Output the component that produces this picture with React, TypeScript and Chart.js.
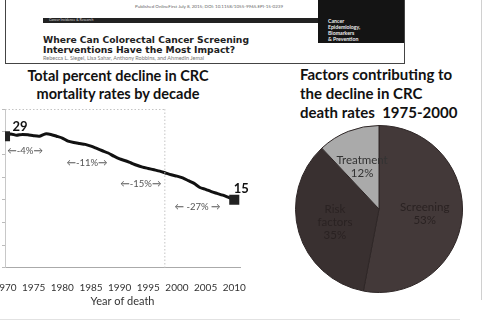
import React, { useEffect, useRef } from "react";
import { Chart, registerables } from "chart.js";

Chart.register(...registerables);

// Colorectal cancer mortality rate (per 100,000) by year of death
const years = [
  1970, 1971, 1972, 1973, 1974, 1975, 1976, 1977, 1978, 1979,
  1980, 1981, 1982, 1983, 1984, 1985, 1986, 1987, 1988, 1989,
  1990, 1991, 1992, 1993, 1994, 1995, 1996, 1997, 1998, 1999,
  2000, 2001, 2002, 2003, 2004, 2005, 2006, 2007, 2008, 2009,
  2010,
];
const rates = [
  29.0, 29.5, 29.2, 29.4, 29.3, 29.1, 29.0, 29.5, 29.4, 29.0,
  28.6, 27.9, 27.6, 27.4, 27.2, 26.8, 26.3, 25.8, 25.3, 24.6,
  24.0, 23.6, 23.1, 22.6, 22.2, 21.9, 21.6, 21.3, 20.9, 20.5,
  20.2, 19.8, 19.2, 18.6, 17.7, 17.3, 16.8, 16.4, 16.0, 15.5,
  15.0,
];
const yearTicks = [1970, 1975, 1980, 1985, 1990, 1995, 2000, 2005, 2010];

// Decade-by-decade percent decline notes
const decadeNotes = ["←-4%→", "←-11%→", "←-15%→", "← -27% →"];
const decadeNoteYears = [1973.5, 1984.3, 1993.7, 2003.6];
const decadeNoteRates = [25.7, 23.1, 18.5, 13.4];
const panelEdgeYear = 1997.8;

// Contribution of each factor to the 1975-2000 decline
const factorNames = ["Screening", "Risk factors", "Treatment"];
const factorShares = [53, 35, 12];
const factorColors = ["#433939", "#393030", "#aaaaaa"];
const factorTextColors = ["#2a2222", "#2a2222", "#333333"];

const FONT = "Lato, 'Open Sans', sans-serif";

const lineLabels = {
  id: "lineLabels",
  afterDatasetsDraw(chart: any) {
    const { ctx, scales, chartArea } = chart;
    const xs = scales.x;
    const ys = scales.y;
    ctx.save();

    // dotted panel edges
    const edgeX = xs.getPixelForValue(panelEdgeYear);
    ctx.strokeStyle = "#c4c4c4";
    ctx.lineWidth = 1;
    ctx.setLineDash([1.5, 2]);
    ctx.beginPath();
    ctx.moveTo(chartArea.left, chartArea.top + 0.5);
    ctx.lineTo(edgeX, chartArea.top + 0.5);
    ctx.moveTo(edgeX + 0.5, chartArea.top);
    ctx.lineTo(edgeX + 0.5, chartArea.bottom);
    ctx.stroke();
    ctx.setLineDash([]);

    // decade notes
    ctx.fillStyle = "#555";
    ctx.font = `9.5px ${FONT}`;
    ctx.textAlign = "center";
    ctx.textBaseline = "middle";
    decadeNotes.forEach((t, i) => {
      ctx.fillText(t, xs.getPixelForValue(decadeNoteYears[i]), ys.getPixelForValue(decadeNoteRates[i]));
    });

    // first and last values
    const pts = chart.getDatasetMeta(0).data;
    const first = pts[0];
    const last = pts[pts.length - 1];
    ctx.fillStyle = "#111";
    ctx.font = `bold 13px ${FONT}`;
    ctx.fillText(String(rates[0]), first.x + 15, first.y - 9);
    ctx.fillText(String(rates[rates.length - 1]), last.x + 7, last.y - 11);
    ctx.restore();
  },
};

const pieLabels = {
  id: "pieLabels",
  afterDatasetsDraw(chart: any) {
    const { ctx } = chart;
    const arcs = chart.getDatasetMeta(0).data;
    ctx.save();
    ctx.font = `11.5px ${FONT}`;
    ctx.textAlign = "center";
    ctx.textBaseline = "middle";
    arcs.forEach((arc: any, i: number) => {
      const mid = (arc.startAngle + arc.endAngle) / 2;
      const r = arc.outerRadius * 0.55;
      const cx = arc.x + Math.cos(mid) * r;
      const cy = arc.y + Math.sin(mid) * r;
      const lines = factorNames[i].split(" ").concat([`${factorShares[i]}%`]);
      ctx.fillStyle = factorTextColors[i];
      const lh = 13;
      lines.forEach((l: string, j: number) => {
        ctx.fillText(l, cx, cy + (j - (lines.length - 1) / 2) * lh);
      });
    });
    ctx.restore();
  },
};

function TrendChart() {
  const ref = useRef<HTMLCanvasElement>(null);
  useEffect(() => {
    const last = rates.length - 1;
    const chart = new Chart(ref.current!, {
      type: "line",
      data: {
        datasets: [
          {
            data: years.map((y, i) => ({ x: y, y: rates[i] })),
            borderColor: "#111",
            borderWidth: 3,
            tension: 0.2,
            pointStyle: "rect",
            pointRadius: (c: any) => (c.dataIndex === 0 || c.dataIndex === last ? 5 : 0),
            pointBackgroundColor: "#222",
            pointBorderColor: "#222",
          },
        ],
      },
      options: {
        animation: false,
        responsive: false,
        layout: { padding: { left: 25, right: 20, top: 9, bottom: 12 } },
        plugins: { legend: { display: false }, tooltip: { enabled: false } },
        scales: {
          x: {
            type: "linear",
            min: 1970,
            max: 2011,
            afterBuildTicks: (axis: any) => {
              axis.ticks = yearTicks.map((v) => ({ value: v }));
            },
            grid: { display: false },
            border: { color: "#aaa", width: 1, dash: [3, 2] },
            ticks: {
              color: "#333",
              font: { family: FONT, size: 10 },
              padding: 6,
              maxRotation: 0,
              autoSkip: false,
              callback: (v: any) => String(v),
            },
            title: {
              display: true,
              text: "Year of death",
              color: "#333",
              font: { family: FONT, size: 11 },
              padding: { top: -5, bottom: 0 },
            },
          },
          y: {
            min: 0,
            max: 35,
            ticks: { display: false, stepSize: 5 },
            grid: { drawOnChartArea: false, tickLength: 3, color: "#bbb" },
            border: { color: "#c8c8c8", width: 1 },
          },
        },
      },
      plugins: [lineLabels],
    } as any);
    return () => chart.destroy();
  }, []);
  return (
    <canvas
      ref={ref}
      width={283}
      height={220}
      style={{ position: "absolute", left: -23, top: 100, width: 283, height: 220 }}
    />
  );
}

function FactorPie() {
  const ref = useRef<HTMLCanvasElement>(null);
  useEffect(() => {
    const chart = new Chart(ref.current!, {
      type: "pie",
      data: {
        labels: factorNames,
        datasets: [
          {
            data: factorShares,
            backgroundColor: factorColors,
            borderColor: "#2e2626",
            borderWidth: 1,
          },
        ],
      },
      options: {
        animation: false,
        responsive: false,
        layout: { padding: 6 },
        plugins: { legend: { display: false }, tooltip: { enabled: false } },
      },
      plugins: [pieLabels],
    } as any);
    return () => chart.destroy();
  }, []);
  return (
    <canvas
      ref={ref}
      width={180}
      height={180}
      style={{ position: "absolute", left: 289, top: 119, width: 180, height: 180 }}
    />
  );
}

function ArticleHeader() {
  const abs = (s: React.CSSProperties): React.CSSProperties => ({ position: "absolute", ...s });
  return (
    <div
      style={abs({
        left: 5,
        top: -10,
        width: 400,
        height: 74,
        border: "1.5px solid #444",
        boxSizing: "border-box",
        overflow: "hidden",
        background: "#fff",
      })}
    >
      <div
        style={abs({
          left: 98,
          top: 13,
          width: 210,
          textAlign: "center",
          fontSize: 4.5,
          color: "#666",
          fontFamily: FONT,
          whiteSpace: "nowrap",
        })}
      >
        Published OnlineFirst July 8, 2015; DOI: 10.1158/1055-9965.EPI-15-0239
      </div>
      <div
        style={abs({
          left: 37,
          top: 27,
          width: 274,
          height: 5,
          background: "#222",
          color: "#ddd",
          fontSize: 3.5,
          lineHeight: "5px",
          paddingLeft: 6,
          fontFamily: FONT,
          whiteSpace: "nowrap",
        })}
      >
        Cancer Incidence & Research
      </div>
      <div
        style={abs({
          left: 37,
          top: 44,
          fontFamily: "'DejaVu Sans', sans-serif",
          fontWeight: "bold",
          fontSize: 9.2,
          lineHeight: "10px",
          color: "#222",
          whiteSpace: "nowrap",
        })}
      >
        Where Can Colorectal Cancer Screening
        <br />
        Interventions Have the Most Impact?
      </div>
      <div
        style={abs({
          left: 37,
          top: 64,
          fontFamily: FONT,
          fontSize: 5.5,
          color: "#777",
          whiteSpace: "nowrap",
        })}
      >
        Rebecca L. Siegel, Lisa Sahar, Anthony Robbins, and Ahmedin Jemal
      </div>
      <div
        style={abs({
          left: 312,
          top: 0,
          width: 90,
          height: 52,
          background: "#141414",
          color: "#eee",
          fontFamily: FONT,
          fontWeight: "bold",
          fontSize: 5.2,
          lineHeight: "6px",
          paddingLeft: 10,
          paddingTop: 27,
          boxSizing: "border-box",
        })}
      >
        Cancer
        <br />
        Epidemiology,
        <br />
        Biomarkers
        <br />& Prevention
      </div>
    </div>
  );
}

export default function App() {
  return (
    <div
      style={{
        position: "fixed",
        left: 0,
        top: 0,
        width: 483,
        height: 324,
        background: "#fff",
        overflow: "hidden",
      }}
    >
      <ArticleHeader />
      <div
        style={{
          position: "absolute",
          left: 0,
          top: 67,
          width: 236,
          textAlign: "center",
          fontFamily: FONT,
          fontWeight: "bold",
          fontSize: 14.5,
          lineHeight: "18px",
          color: "#111",
          whiteSpace: "nowrap",
        }}
      >
        Total percent decline in CRC
        <br />
        mortality rates by decade
      </div>
      <div
        style={{
          position: "absolute",
          left: 300,
          top: 65,
          fontFamily: FONT,
          fontWeight: "bold",
          fontSize: 15,
          lineHeight: "19px",
          color: "#111",
          whiteSpace: "pre",
        }}
      >
        {"Factors contributing to\nthe decline in CRC\ndeath rates  1975-2000"}
      </div>
      <TrendChart />
      <FactorPie />
      <div style={{ position: "absolute", left: 0, top: 319, width: 460, height: 1, background: "#e2e2e2" }} />
      <div style={{ position: "absolute", left: 481, top: 0, width: 1, height: 300, background: "#d0d0d0" }} />
    </div>
  );
}
